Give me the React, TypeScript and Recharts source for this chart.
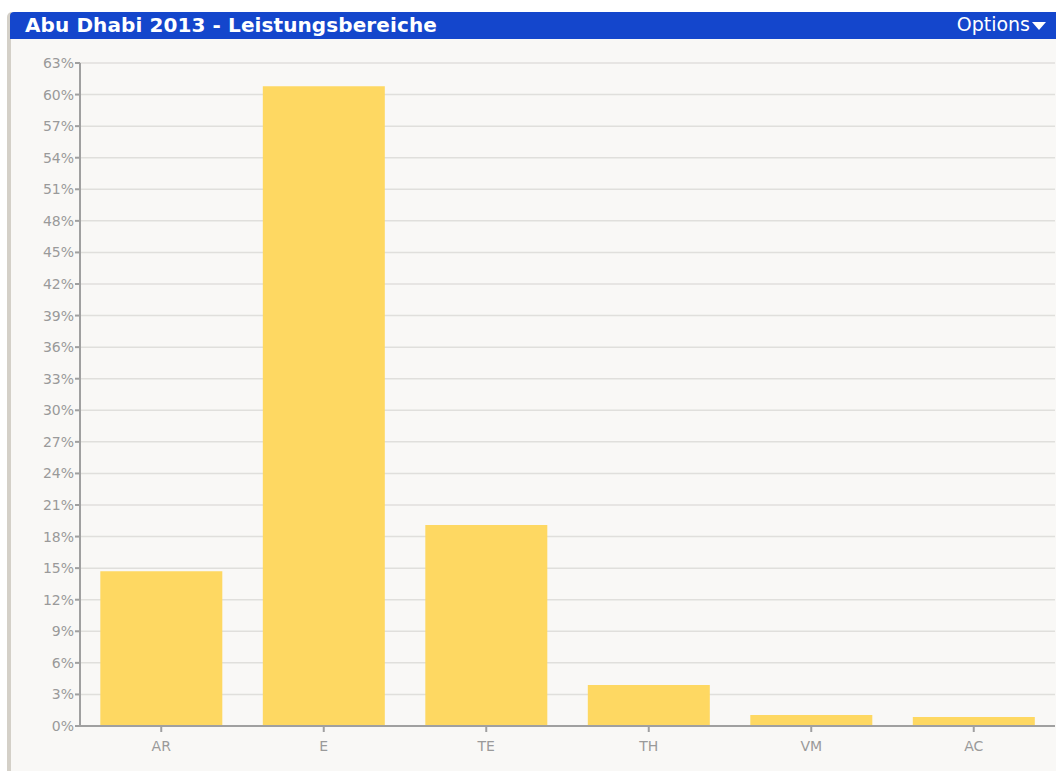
import React from 'react'
import { BarChart, Bar, XAxis, YAxis, CartesianGrid } from 'recharts'

const categories = ['AR', 'E', 'TE', 'TH', 'VM', 'AC']
const shares = [14.7, 60.8, 19.1, 3.9, 1.05, 0.85]
const yTicks = [0, 3, 6, 9, 12, 15, 18, 21, 24, 27, 30, 33, 36, 39, 42, 45, 48, 51, 54, 57, 60, 63]

const data = categories.map((name, i) => ({ name, value: shares[i] }))

const tickStyle = { fill: '#9a9a9a', fontSize: 14, fontFamily: 'DejaVu Sans' }

export default function App() {
  return (
    <div style={{ position: 'absolute', left: 0, top: 0, width: 1056, height: 771, background: '#fff', overflow: 'hidden' }}>
      {/* panel */}
      <div
        style={{
          position: 'absolute',
          left: 7,
          top: 12,
          width: 1049,
          height: 759,
          background: '#f9f8f6',
          borderLeft: '4px solid #d4d0c8',
          borderTopLeftRadius: 5,
          boxSizing: 'border-box',
        }}
      />
      {/* header */}
      <div
        style={{
          position: 'absolute',
          left: 10,
          top: 12,
          width: 1046,
          height: 27,
          background: '#1446cc',
          borderTopLeftRadius: 4,
          color: '#fff',
          fontFamily: 'DejaVu Sans',
        }}
      >
        <span style={{ position: 'absolute', left: 15, top: 1, fontSize: 20, fontWeight: 'bold', letterSpacing: 0.1 }}>
          Abu Dhabi 2013 - Leistungsbereiche
        </span>
        <span style={{ position: 'absolute', right: 26, top: 1, fontSize: 19 }}>Options</span>
        <span
          style={{
            position: 'absolute',
            right: 10,
            top: 10,
            width: 0,
            height: 0,
            borderLeft: '7px solid transparent',
            borderRight: '7px solid transparent',
            borderTop: '8px solid #fff',
          }}
        />
      </div>
      <div style={{ position: 'absolute', left: 0, top: 0 }}>
        <BarChart
          width={1056}
          height={771}
          data={data}
          margin={{ top: 63, right: 1, bottom: 15, left: 10 }}
          barCategoryGap="12.5%"
        >
          <CartesianGrid vertical={false} stroke="#e0dfdc" strokeWidth={1.5} />
          <XAxis
            dataKey="name"
            height={30}
            stroke="#a0a0a0"
            strokeWidth={2}
            tickSize={6}
            tickMargin={9}
            tick={tickStyle}
            interval={0}
          />
          <YAxis
            width={70}
            domain={[0, 63]}
            ticks={yTicks}
            interval={0}
            tickFormatter={(v) => `${v}%`}
            stroke="#a0a0a0"
            strokeWidth={2}
            tickSize={5}
            tickMargin={1}
            tick={tickStyle}
          />
          <Bar dataKey="value" fill="#fed862" isAnimationActive={false} />
        </BarChart>
      </div>
    </div>
  )
}
